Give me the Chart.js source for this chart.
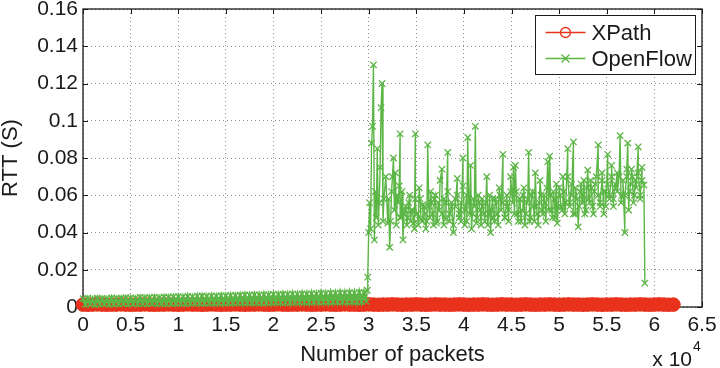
<!DOCTYPE html>
<html>
<head>
<meta charset="utf-8">
<script src="https://cdn.jsdelivr.net/npm/chart.js@4.4.1/dist/chart.umd.min.js"></script>
<style>
  body { margin: 0; background: #fff; }
  canvas { display: block; }
</style>
</head>
<body>
<canvas id="rtt" width="720" height="368"></canvas>
<script>
const xpathPackets = [
  0,500,1000,1500,2000,2500,3000,3500,4000,4500,5000,5500,6000,6500,7000,7500,8000,8500,9000,9500,
  10000,10500,11000,11500,12000,12500,13000,13500,14000,14500,15000,15500,16000,16500,17000,17500,18000,18500,19000,19500,
  20000,20500,21000,21500,22000,22500,23000,23500,24000,24500,25000,25500,26000,26500,27000,27500,28000,28500,29000,29500,
  30000,30500,31000,31500,32000,32500,33000,33500,34000,34500,35000,35500,36000,36500,37000,37500,38000,38500,39000,39500,
  40000,40500,41000,41500,42000,42500,43000,43500,44000,44500,45000,45500,46000,46500,47000,47500,48000,48500,49000,49500,
  50000,50500,51000,51500,52000,52500,53000,53500,54000,54500,55000,55500,56000,56500,57000,57500,58000,58500,59000,59500,
  60000,60500,61000,61500,62000
];
const xpathRtt = [
  0.0013,0.0012,0.0013,0.0014,0.0013,0.0012,0.0013,0.0013,0.0014,0.0013,0.0012,0.0013,0.0013,0.0014,0.0013,0.0012,0.0013,0.0013,0.0014,0.0013,
  0.0012,0.0013,0.0014,0.0013,0.0013,0.0012,0.0013,0.0014,0.0013,0.0012,0.0013,0.0013,0.0014,0.0013,0.0012,0.0013,0.0013,0.0014,0.0013,0.0012,
  0.0013,0.0014,0.0013,0.0012,0.0013,0.0013,0.0014,0.0013,0.0012,0.0013,0.0013,0.0014,0.0013,0.0012,0.0013,0.0014,0.0013,0.0013,0.0012,0.0013,
  0.0014,0.0013,0.0012,0.0013,0.0013,0.0014,0.0013,0.0012,0.0013,0.0013,0.0014,0.0013,0.0012,0.0013,0.0014,0.0013,0.0013,0.0012,0.0013,0.0014,
  0.0013,0.0012,0.0013,0.0013,0.0014,0.0013,0.0012,0.0013,0.0014,0.0013,0.0013,0.0012,0.0013,0.0014,0.0013,0.0012,0.0013,0.0013,0.0014,0.0013,
  0.0012,0.0013,0.0014,0.0013,0.0013,0.0012,0.0013,0.0014,0.0013,0.0012,0.0013,0.0013,0.0014,0.0013,0.0012,0.0013,0.0013,0.0014,0.0013,0.0012,
  0.0013,0.0014,0.0013,0.0012,0.0013
];

// OpenFlow before the jump (~3 x 10^4 packets): thin band close to zero
const openflowRampPackets = [
  0,250,500,750,1000,1250,1500,1750,2000,2250,2500,2750,
  3000,3250,3500,3750,4000,4250,4500,4750,5000,5250,5500,5750,
  6000,6250,6500,6750,7000,7250,7500,7750,8000,8250,8500,8750,
  9000,9250,9500,9750,10000,10250,10500,10750,11000,11250,11500,11750,
  12000,12250,12500,12750,13000,13250,13500,13750,14000,14250,14500,14750,
  15000,15250,15500,15750,16000,16250,16500,16750,17000,17250,17500,17750,
  18000,18250,18500,18750,19000,19250,19500,19750,20000,20250,20500,20750,
  21000,21250,21500,21750,22000,22250,22500,22750,23000,23250,23500,23750,
  24000,24250,24500,24750,25000,25250,25500,25750,26000,26250,26500,26750,
  27000,27250,27500,27750,28000,28250,28500,28750,29000,29250,29500,29750
];
const openflowRampRtt = [
  0.0045,0.0014,0.0047,0.0016,0.0044,0.0013,0.0048,0.0015,0.0046,0.0017,0.0045,0.0014,
  0.0049,0.0016,0.0047,0.0015,0.0048,0.0018,0.0050,0.0015,0.0049,0.0017,0.0048,0.0016,
  0.0052,0.0018,0.0050,0.0016,0.0051,0.0019,0.0053,0.0017,0.0050,0.0018,0.0054,0.0017,
  0.0053,0.0019,0.0055,0.0018,0.0056,0.0020,0.0054,0.0018,0.0057,0.0019,0.0055,0.0021,
  0.0058,0.0019,0.0059,0.0020,0.0057,0.0021,0.0060,0.0020,0.0058,0.0022,0.0061,0.0020,
  0.0060,0.0022,0.0062,0.0021,0.0061,0.0023,0.0063,0.0021,0.0065,0.0023,0.0063,0.0022,
  0.0066,0.0024,0.0064,0.0022,0.0067,0.0024,0.0065,0.0023,0.0068,0.0025,0.0066,0.0024,
  0.0069,0.0025,0.0067,0.0024,0.0070,0.0026,0.0068,0.0025,0.0071,0.0026,0.0069,0.0025,
  0.0072,0.0027,0.0070,0.0026,0.0074,0.0027,0.0071,0.0026,0.0075,0.0028,0.0073,0.0027,
  0.0076,0.0028,0.0074,0.0027,0.0077,0.0029,0.0075,0.0028,0.0079,0.0029,0.0077,0.0030
];

// OpenFlow after the jump: noisy, with spikes
const openflowBurstPackets = [
  29850,29900,30000,30100,30200,30300,30400,30500,30600,30700,
  30800,30900,31000,31100,31200,31300,31400,31500,31600,31800,
  32000,32200,32400,32600,32800,33000,33200,33300,33400,33600,
  33800,34000,34200,34400,34600,34800,34900,35000,35200,35400,
  35600,35800,36000,36200,36400,36600,36800,37000,37200,37400,
  37700,37900,38100,38300,38500,38700,38900,39100,39300,39500,
  39700,39900,40100,40300,40400,40600,40800,41000,41200,41400,
  41600,41800,42000,42200,42400,42600,42800,43000,43200,43400,
  43600,43800,44100,44300,44500,44700,44900,45200,45400,45600,
  45800,46000,46200,46400,46600,46800,47000,47200,47400,47600,
  47800,48000,48200,48400,48600,48800,49000,49200,49400,49600,
  49800,50000,50200,50400,50600,50900,51100,51300,51500,51700,
  52000,52200,52400,52600,52800,53000,53200,53400,53600,53800,
  54100,54300,54500,54700,54900,55100,55300,55500,55700,55900,
  56100,56400,56600,56900,57100,57200,57400,57600,57800,58000,
  58300,58500,58700,58900,59000
];
const openflowBurstRtt = [
  0.0090,0.0160,0.0400,0.0560,0.0420,0.0880,0.0970,0.1300,0.0360,0.0620,
  0.0480,0.0850,0.0440,0.0560,0.0750,0.1070,0.1200,0.0460,0.0580,0.0700,
  0.0450,0.0320,0.0620,0.0800,0.0720,0.0600,0.0650,0.0930,0.0480,0.0360,
  0.0520,0.0440,0.0560,0.0460,0.0520,0.0420,0.0930,0.0500,0.0440,0.0580,
  0.0460,0.0540,0.0420,0.0870,0.0480,0.0560,0.0440,0.0600,0.0460,0.0520,
  0.0740,0.0440,0.0560,0.0830,0.0460,0.0540,0.0400,0.0580,0.0690,0.0480,
  0.0560,0.0800,0.0440,0.0600,0.0910,0.0500,0.0420,0.0580,0.0970,0.0480,
  0.0560,0.0440,0.0540,0.0460,0.0700,0.0500,0.0400,0.0580,0.0460,0.0560,
  0.0440,0.0600,0.0820,0.0480,0.0560,0.0460,0.0620,0.0750,0.0760,0.0500,
  0.0580,0.0460,0.0600,0.0440,0.0560,0.0830,0.0480,0.0620,0.0460,0.0540,
  0.0440,0.0680,0.0520,0.0600,0.0460,0.0780,0.0810,0.0520,0.0620,0.0480,
  0.0450,0.0640,0.0540,0.0700,0.0500,0.0850,0.0560,0.0660,0.0886,0.0500,
  0.0430,0.0620,0.0560,0.0680,0.0520,0.0735,0.0560,0.0640,0.0500,0.0660,
  0.0870,0.0540,0.0680,0.0500,0.0620,0.0820,0.0580,0.0700,0.0540,0.0660,
  0.0720,0.0920,0.0600,0.0400,0.0700,0.0880,0.0620,0.0740,0.0560,0.0680,
  0.0860,0.0600,0.0750,0.0655,0.0128
];

// more samples inside the dense band after the jump
const openflowBandPackets = [
  32100,32300,32500,32700,32900,33100,33300,33500,33700,33900,
  34100,34300,34500,34700,34900,35100,35300,35500,35700,35900,
  36100,36300,36500,36700,36900,37100,37300,37500,37700,37900,
  38100,38300,38500,38700,38900,39100,39300,39500,39700,39900,
  40100,40300,40500,40700,40900,41100,41300,41500,41700,41900,
  42100,42300,42500,42700,42900,43100,43300,43500,43700,43900,
  44100,44300,44500,44700,44900,45100,45300,45500,45700,45900,
  46100,46300,46500,46700,46900,47100,47300,47500,47700,47900,
  48100,48300,48500,48700,48900,49100,49300,49500,49700,49900,
  50100,50300,50500,50700,50900,51100,51300,51500,51700,51900,
  52100,52300,52500,52700,52900,53100,53300,53500,53700,53900,
  54100,54300,54500,54700,54900,55100,55300,55500,55700,55900,
  56100,56300,56500,56700,56900,57100,57300,57500,57700,57900,
  58100,58300,58500,58700
];
const openflowBandRtt = [
  0.0580,0.0460,0.0700,0.0520,0.0440,0.0560,0.0480,0.0620,0.0500,0.0540,
  0.0480,0.0600,0.0520,0.0450,0.0580,0.0500,0.0640,0.0470,0.0550,0.0500,
  0.0460,0.0540,0.0620,0.0500,0.0580,0.0450,0.0560,0.0680,0.0500,0.0580,
  0.0470,0.0620,0.0500,0.0560,0.0440,0.0540,0.0600,0.0500,0.0460,0.0650,
  0.0520,0.0460,0.0560,0.0760,0.0500,0.0540,0.0450,0.0600,0.0520,0.0580,
  0.0500,0.0560,0.0440,0.0600,0.0520,0.0480,0.0580,0.0500,0.0640,0.0520,
  0.0560,0.0480,0.0600,0.0520,0.0700,0.0560,0.0500,0.0620,0.0460,0.0580,
  0.0520,0.0640,0.0500,0.0580,0.0460,0.0600,0.0540,0.0720,0.0500,0.0560,
  0.0600,0.0500,0.0560,0.0640,0.0520,0.0600,0.0480,0.0580,0.0660,0.0540,
  0.0600,0.0520,0.0620,0.0560,0.0700,0.0540,0.0600,0.0500,0.0640,0.0580,
  0.0540,0.0660,0.0600,0.0500,0.0640,0.0580,0.0680,0.0540,0.0620,0.0700,
  0.0600,0.0560,0.0720,0.0620,0.0540,0.0660,0.0600,0.0760,0.0580,0.0640,
  0.0620,0.0700,0.0560,0.0680,0.0600,0.0740,0.0520,0.0660,0.0700,0.0600,
  0.0640,0.0720,0.0580,0.0680
];

const xTicks = [0, 5000, 10000, 15000, 20000, 25000, 30000, 35000, 40000, 45000, 50000, 55000, 60000, 65000];
const yTicks = [0, 0.02, 0.04, 0.06, 0.08, 0.1, 0.12, 0.14, 0.16];

const red = '#e8321c';
const green = '#5cb646';
const ink = '#1a1a1a';
const fontFamily = "'Liberation Sans', Arial, Helvetica, sans-serif";

function toPoints(xs, ys) {
  return xs.map((x, i) => ({ x: x, y: ys[i] }));
}

const openflowPoints = toPoints(openflowRampPackets, openflowRampRtt)
  .concat(toPoints(openflowBurstPackets, openflowBurstRtt))
  .concat(toPoints(openflowBandPackets, openflowBandRtt))
  .sort((a, b) => a.x - b.x);

const rampEnd = openflowRampPackets[openflowRampPackets.length - 1];

// box round the axes with inward ticks, like matlab
const axesBox = {
  id: 'axesBox',
  beforeDatasetsDraw(chart) {
    const { ctx, chartArea: a, scales } = chart;
    ctx.save();
    ctx.strokeStyle = ink;
    ctx.lineWidth = 1.3;
    ctx.strokeRect(a.left, a.top, a.right - a.left, a.bottom - a.top);
    ctx.lineWidth = 1;
    ctx.beginPath();
    xTicks.forEach(v => {
      const px = Math.round(scales.x.getPixelForValue(v)) + 0.5;
      ctx.moveTo(px, a.bottom); ctx.lineTo(px, a.bottom - 5);
      ctx.moveTo(px, a.top); ctx.lineTo(px, a.top + 5);
    });
    yTicks.forEach(v => {
      const py = Math.round(scales.y.getPixelForValue(v)) + 0.5;
      ctx.moveTo(a.left, py); ctx.lineTo(a.left + 5, py);
      ctx.moveTo(a.right, py); ctx.lineTo(a.right - 5, py);
    });
    ctx.stroke();
    ctx.restore();
  },
  afterDraw(chart) {
    const { ctx, chartArea: a } = chart;
    ctx.save();
    ctx.fillStyle = ink;
    ctx.textBaseline = 'alphabetic';
    ctx.textAlign = 'right';
    ctx.font = '21px ' + fontFamily;
    ctx.fillText('x 10', a.right - 10, 366);
    ctx.textAlign = 'left';
    ctx.font = '14px ' + fontFamily;
    ctx.fillText('4', a.right - 9, 351);
    ctx.restore();
  }
};

const legendBox = {
  id: 'legendBox',
  afterDraw(chart) {
    const { ctx, chartArea: a } = chart;
    const w = 160, h = 59;
    const x0 = Math.round(a.right - 7 - w) + 0.5;
    const y0 = Math.round(a.top + 6) + 0.5;
    ctx.save();
    ctx.fillStyle = '#fff';
    ctx.fillRect(x0, y0, w, h);
    ctx.strokeStyle = ink;
    ctx.lineWidth = 1;
    ctx.strokeRect(x0, y0, w, h);
    ctx.font = '22px ' + fontFamily;
    ctx.textBaseline = 'middle';
    chart.data.datasets.forEach((ds, i) => {
      const y = y0 + 17 + i * 26;
      const mx = x0 + 30;
      ctx.strokeStyle = ds.borderColor;
      ctx.lineWidth = 1.3;
      ctx.beginPath();
      ctx.moveTo(x0 + 10, y); ctx.lineTo(x0 + 50, y);
      ctx.stroke();
      ctx.beginPath();
      if (ds.pointStyle === 'circle') {
        ctx.arc(mx, y, 5, 0, Math.PI * 2);
      } else {
        ctx.moveTo(mx - 4, y - 4); ctx.lineTo(mx + 4, y + 4);
        ctx.moveTo(mx - 4, y + 4); ctx.lineTo(mx + 4, y - 4);
      }
      ctx.stroke();
      ctx.fillStyle = ink;
      ctx.fillText(ds.label, x0 + 56, y + 1);
    });
    ctx.restore();
  }
};

new Chart(document.getElementById('rtt'), {
  type: 'scatter',
  data: {
    datasets: [{
      label: 'XPath',
      data: toPoints(xpathPackets, xpathRtt),
      showLine: true,
      borderColor: red,
      backgroundColor: red,
      borderWidth: 1.2,
      pointStyle: 'circle',
      pointRadius: 6.8,
      pointBorderWidth: 1,
      clip: false,
      order: 2
    }, {
      label: 'OpenFlow',
      data: openflowPoints,
      showLine: true,
      borderColor: green,
      backgroundColor: green,
      borderWidth: 1.4,
      pointStyle: 'crossRot',
      pointRadius: 4.5,
      pointBorderWidth: 1.3,
      clip: false,
      order: 1,
      // the early packets are so dense they merge into a solid strip
      segment: {
        borderWidth: c => (c.p1.parsed.x <= rampEnd ? 3 : undefined)
      }
    }]
  },
  options: {
    responsive: false,
    animation: false,
    layout: { padding: { top: 9, right: 18, left: 0, bottom: 0 } },
    plugins: {
      legend: { display: false },
      tooltip: { enabled: false }
    },
    scales: {
      x: {
        type: 'linear',
        min: 0,
        max: 65000,
        afterFit: s => { s.height = 61; s.paddingLeft = 0; s.paddingRight = 0; },
        afterBuildTicks: s => { s.ticks = xTicks.map(v => ({ value: v })); },
        ticks: {
          padding: 6,
          color: ink,
          font: { family: fontFamily, size: 21 },
          maxRotation: 0,
          callback: v => String(Number((v / 10000).toFixed(1)))
        },
        grid: { color: 'rgba(0,0,0,0.45)', lineWidth: 1, drawTicks: false },
        border: { display: false, dash: [1, 3] },
        title: {
          display: true,
          text: 'Number of packets',
          color: ink,
          font: { family: fontFamily, size: 22, lineHeight: 1.2 },
          padding: { top: 0, bottom: 0 }
        }
      },
      y: {
        type: 'linear',
        min: 0,
        max: 0.16,
        afterFit: s => { s.width = 83; s.paddingTop = 0; s.paddingBottom = 0; },
        afterBuildTicks: s => { s.ticks = yTicks.map(v => ({ value: v })); },
        ticks: {
          padding: 5,
          color: ink,
          font: { family: fontFamily, size: 21 },
          callback: v => String(Number(v.toFixed(2)))
        },
        grid: { color: 'rgba(0,0,0,0.45)', lineWidth: 1, drawTicks: false },
        border: { display: false, dash: [1, 3] },
        title: {
          display: true,
          text: 'RTT (S)',
          color: ink,
          font: { family: fontFamily, size: 22, lineHeight: 1 },
          padding: { top: 0, bottom: 0 }
        }
      }
    }
  },
  plugins: [axesBox, legendBox]
});
</script>
</body>
</html>
